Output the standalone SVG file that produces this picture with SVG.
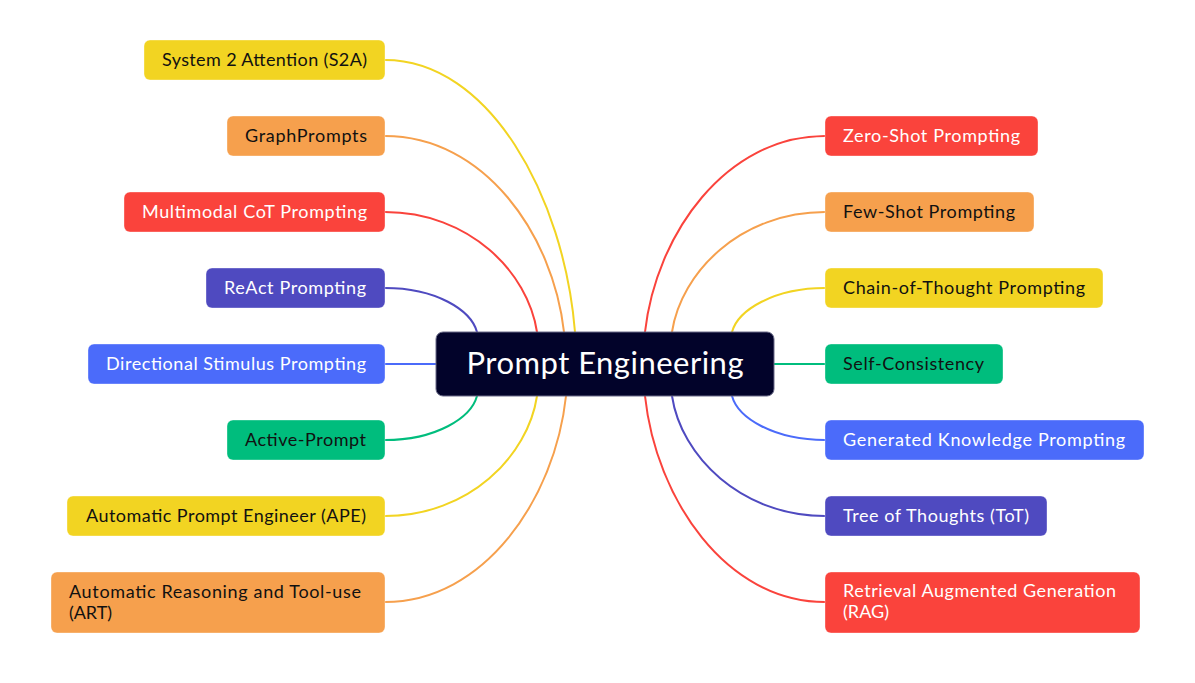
<svg xmlns="http://www.w3.org/2000/svg" width="1195" height="683" viewBox="0 0 1195 683">
  <style>
    .bg { fill: #ffffff; }
    .link { fill: none; stroke-width: 2; stroke-linecap: round; }
    .node rect { stroke: rgba(255,255,255,0.35); stroke-width: 1; }
    .label { font-family: "Lato", "Liberation Sans", sans-serif; font-size: 18px; }
    .dark { fill: #111111; }
    .light { fill: #ffffff; }
    .yellow { fill: #F2D422; }
    .orange { fill: #F6A04D; }
    .red { fill: #FA433C; }
    .indigo { fill: #4F4AC0; }
    .blue { fill: #4B6BFA; }
    .green { fill: #00BD7D; }
    .s-yellow { stroke: #F2D422; }
    .s-orange { stroke: #F6A04D; }
    .s-red { stroke: #FA433C; }
    .s-indigo { stroke: #4F4AC0; }
    .s-blue { stroke: #4B6BFA; }
    .s-green { stroke: #00BD7D; }
    .root rect { fill: #02032A; stroke: #6a6b88; stroke-width: 1; }
    .root text { font-family: "Lato", "Liberation Sans", sans-serif; font-size: 31px; fill: #ffffff; }
  </style>
  <rect class="bg" x="0" y="0" width="1195" height="683"/>

  <!-- branches from the central topic -->
  <g id="connectors">
    <path class="link s-yellow" d="M385,60 C489,60 564,196 575,332"/>
    <path class="link s-orange" d="M385,136 C484,136 553,234 564,332"/>
    <path class="link s-red" d="M385,212 C469,212 528,272 537,332"/>
    <path class="link s-indigo" d="M385,288 C436,288 471,310 477,332"/>
    <path class="link s-blue" d="M385,364 L436,364"/>
    <path class="link s-green" d="M385,440 C436,440 471,418 477,396"/>
    <path class="link s-yellow" d="M385,516 C469,516 528,456 537,396"/>
    <path class="link s-orange" d="M385,602 C484,602 555,499 566,396"/>

    <path class="link s-red" d="M825,136 C726,136 656,234 645,332"/>
    <path class="link s-orange" d="M825,212 C741,212 681,272 672,332"/>
    <path class="link s-yellow" d="M825,288 C774,288 738,310 732,332"/>
    <path class="link s-green" d="M825,364 L774,364"/>
    <path class="link s-blue" d="M825,440 C774,440 738,418 732,396"/>
    <path class="link s-indigo" d="M825,516 C741,516 681,456 672,396"/>
    <path class="link s-red" d="M825,602 C726,602 656,499 645,396"/>
  </g>

  <g id="root" class="root">
    <rect x="436" y="332" width="338" height="64" rx="7"/>
    <text x="605" y="374" text-anchor="middle" textLength="277">Prompt Engineering</text>
  </g>

  <!-- left branch topics -->
  <g id="s2a" class="node">
    <rect class="yellow" x="144" y="40" width="241" height="40" rx="6"/>
    <text class="label dark" x="162" y="66" textLength="205">System 2 Attention (S2A)</text>
  </g>
  <g id="graphprompts" class="node">
    <rect class="orange" x="227" y="116" width="158" height="40" rx="6"/>
    <text class="label dark" x="245" y="142" textLength="122">GraphPrompts</text>
  </g>
  <g id="multimodal-cot" class="node">
    <rect class="red" x="124" y="192" width="261" height="40" rx="6"/>
    <text class="label light" x="142" y="218" textLength="225">Multimodal CoT Prompting</text>
  </g>
  <g id="react" class="node">
    <rect class="indigo" x="206" y="268" width="179" height="40" rx="6"/>
    <text class="label light" x="224" y="294" textLength="142">ReAct Prompting</text>
  </g>
  <g id="directional-stimulus" class="node">
    <rect class="blue" x="88" y="344" width="297" height="40" rx="6"/>
    <text class="label light" x="106" y="370" textLength="260">Directional Stimulus Prompting</text>
  </g>
  <g id="active-prompt" class="node">
    <rect class="green" x="227" y="420" width="158" height="40" rx="6"/>
    <text class="label dark" x="245" y="446" textLength="121">Active-Prompt</text>
  </g>
  <g id="ape" class="node">
    <rect class="yellow" x="67" y="496" width="318" height="40" rx="6"/>
    <text class="label dark" x="86" y="522" textLength="280">Automatic Prompt Engineer (APE)</text>
  </g>
  <g id="art" class="node">
    <rect class="orange" x="51" y="572" width="334" height="61" rx="6"/>
    <text class="label dark" x="69" y="598" textLength="292">Automatic Reasoning and Tool-use</text>
    <text class="label dark" x="69" y="619" textLength="43">(ART)</text>
  </g>

  <!-- right branch topics -->
  <g id="zero-shot" class="node">
    <rect class="red" x="825" y="116" width="213" height="40" rx="6"/>
    <text class="label light" x="843" y="142" textLength="177">Zero-Shot Prompting</text>
  </g>
  <g id="few-shot" class="node">
    <rect class="orange" x="825" y="192" width="209" height="40" rx="6"/>
    <text class="label dark" x="843" y="218" textLength="172">Few-Shot Prompting</text>
  </g>
  <g id="chain-of-thought" class="node">
    <rect class="yellow" x="825" y="268" width="278" height="40" rx="6"/>
    <text class="label dark" x="843" y="294" textLength="242">Chain-of-Thought Prompting</text>
  </g>
  <g id="self-consistency" class="node">
    <rect class="green" x="825" y="344" width="178" height="40" rx="6"/>
    <text class="label dark" x="843" y="370" textLength="141">Self-Consistency</text>
  </g>
  <g id="generated-knowledge" class="node">
    <rect class="blue" x="825" y="420" width="319" height="40" rx="6"/>
    <text class="label light" x="843" y="446" textLength="282">Generated Knowledge Prompting</text>
  </g>
  <g id="tree-of-thoughts" class="node">
    <rect class="indigo" x="825" y="496" width="222" height="40" rx="6"/>
    <text class="label light" x="843" y="522" textLength="186">Tree of Thoughts (ToT)</text>
  </g>
  <g id="rag" class="node">
    <rect class="red" x="825" y="572" width="315" height="61" rx="6"/>
    <text class="label light" x="843" y="597" textLength="273">Retrieval Augmented Generation</text>
    <text class="label light" x="843" y="618" textLength="46">(RAG)</text>
  </g>
</svg>
